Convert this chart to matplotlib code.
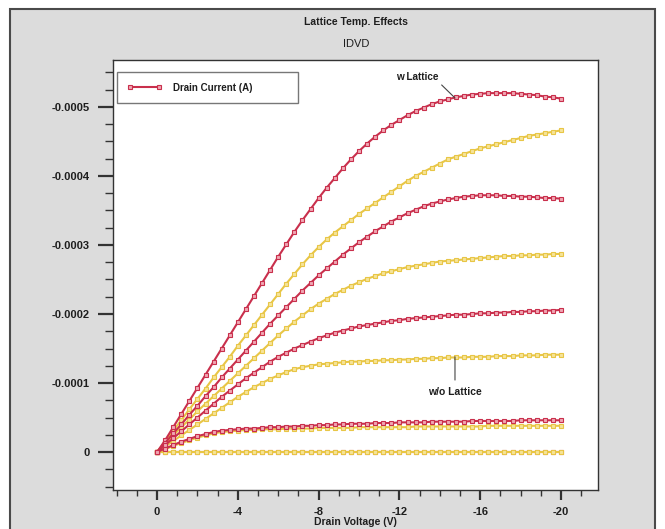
import numpy as np
import matplotlib
matplotlib.use("Agg")
import matplotlib.pyplot as plt
from matplotlib.patches import Rectangle
from matplotlib.ticker import FixedLocator, MultipleLocator, FuncFormatter

plt.rcParams['font.family'] = ['Liberation Sans', 'DejaVu Sans']
plt.rcParams['axes.unicode_minus'] = False

# -----------------
#   data (IDVD sweep)
# -----------------
# drain voltage sweep (V)
vd = [0.0, -0.4, -0.8, -1.2, -1.6, -2.0, -2.4, -2.8, -3.2, -3.6, -4.0,
      -4.4, -4.8, -5.2, -5.6, -6.0, -6.4, -6.8, -7.2, -7.6, -8.0,
      -8.4, -8.8, -9.2, -9.6, -10.0, -10.4, -10.8, -11.2, -11.6, -12.0,
      -12.4, -12.8, -13.2, -13.6, -14.0, -14.4, -14.8, -15.2, -15.6, -16.0,
      -16.4, -16.8, -17.2, -17.6, -18.0, -18.4, -18.8, -19.2, -19.6, -20.0]

# drain current magnitude, units of 1e-4 A (plotted negative)
# with lattice temperature
w_lat_1 = [0.00, 0.17, 0.36, 0.55, 0.74, 0.93, 1.12, 1.31, 1.50, 1.69, 1.88,
           2.07, 2.26, 2.45, 2.64, 2.83, 3.01, 3.19, 3.36, 3.52, 3.68,
           3.83, 3.97, 4.11, 4.24, 4.36, 4.47, 4.57, 4.66, 4.74, 4.81,
           4.88, 4.94, 4.99, 5.04, 5.08, 5.11, 5.14, 5.16, 5.18, 5.19,
           5.20, 5.20, 5.20, 5.20, 5.19, 5.18, 5.17, 5.15, 5.14, 5.12]
w_lat_2 = [0.00, 0.13, 0.27, 0.40, 0.54, 0.67, 0.81, 0.94, 1.08, 1.21, 1.34,
           1.47, 1.60, 1.73, 1.86, 1.98, 2.10, 2.22, 2.34, 2.45, 2.56,
           2.66, 2.76, 2.86, 2.95, 3.04, 3.12, 3.20, 3.27, 3.34, 3.40,
           3.46, 3.51, 3.56, 3.60, 3.63, 3.66, 3.68, 3.70, 3.71, 3.72,
           3.72, 3.72, 3.71, 3.71, 3.70, 3.70, 3.69, 3.68, 3.68, 3.67]
w_lat_3 = [0.00, 0.10, 0.20, 0.30, 0.40, 0.50, 0.60, 0.70, 0.80, 0.89, 0.98,
           1.07, 1.15, 1.23, 1.31, 1.38, 1.44, 1.50, 1.55, 1.60, 1.65,
           1.69, 1.73, 1.76, 1.79, 1.82, 1.84, 1.86, 1.88, 1.90, 1.91,
           1.93, 1.94, 1.95, 1.96, 1.97, 1.98, 1.99, 1.99, 2.00, 2.01,
           2.01, 2.02, 2.02, 2.03, 2.03, 2.04, 2.04, 2.05, 2.05, 2.06]
w_lat_4 = [0.00, 0.05, 0.10, 0.15, 0.19, 0.23, 0.26, 0.29, 0.31, 0.32, 0.33,
           0.34, 0.34, 0.35, 0.36, 0.36, 0.37, 0.37, 0.38, 0.38, 0.39,
           0.39, 0.40, 0.40, 0.41, 0.41, 0.41, 0.42, 0.42, 0.42, 0.43,
           0.43, 0.43, 0.43, 0.44, 0.44, 0.44, 0.44, 0.44, 0.45, 0.45,
           0.45, 0.45, 0.45, 0.45, 0.46, 0.46, 0.46, 0.46, 0.46, 0.46]
w_lat_5 = [0.0] * 51   # off state, flat at zero

# without lattice temperature
wo_lat_1 = [0.00, 0.15, 0.31, 0.46, 0.62, 0.77, 0.92, 1.08, 1.23, 1.38, 1.54,
            1.69, 1.84, 1.99, 2.14, 2.29, 2.44, 2.58, 2.72, 2.85, 2.97,
            3.08, 3.18, 3.27, 3.36, 3.45, 3.53, 3.61, 3.69, 3.77, 3.85,
            3.93, 4.00, 4.06, 4.12, 4.18, 4.24, 4.28, 4.32, 4.36, 4.40,
            4.43, 4.46, 4.49, 4.52, 4.55, 4.58, 4.60, 4.62, 4.64, 4.66]
wo_lat_2 = [0.00, 0.12, 0.24, 0.36, 0.47, 0.59, 0.70, 0.81, 0.92, 1.03, 1.14,
            1.25, 1.36, 1.47, 1.58, 1.69, 1.79, 1.89, 1.98, 2.07, 2.15,
            2.22, 2.29, 2.35, 2.41, 2.46, 2.51, 2.55, 2.59, 2.62, 2.65,
            2.68, 2.70, 2.72, 2.74, 2.76, 2.77, 2.78, 2.79, 2.80, 2.81,
            2.82, 2.83, 2.84, 2.84, 2.85, 2.85, 2.86, 2.86, 2.87, 2.87]
wo_lat_3 = [0.00, 0.08, 0.16, 0.24, 0.32, 0.40, 0.48, 0.56, 0.64, 0.72, 0.80,
            0.87, 0.94, 1.00, 1.06, 1.11, 1.16, 1.20, 1.23, 1.25, 1.27,
            1.28, 1.29, 1.30, 1.31, 1.31, 1.32, 1.32, 1.33, 1.33, 1.34,
            1.34, 1.35, 1.35, 1.36, 1.36, 1.37, 1.37, 1.37, 1.38, 1.38,
            1.38, 1.39, 1.39, 1.39, 1.40, 1.40, 1.40, 1.41, 1.41, 1.41]
wo_lat_4 = [0.00, 0.04, 0.09, 0.13, 0.17, 0.21, 0.24, 0.27, 0.29, 0.30, 0.31,
            0.32, 0.32, 0.33, 0.33, 0.33, 0.34, 0.34, 0.34, 0.34, 0.35,
            0.35, 0.35, 0.35, 0.35, 0.36, 0.36, 0.36, 0.36, 0.36, 0.36,
            0.36, 0.37, 0.37, 0.37, 0.37, 0.37, 0.37, 0.37, 0.37, 0.37,
            0.38, 0.38, 0.38, 0.38, 0.38, 0.38, 0.38, 0.38, 0.38, 0.38]
wo_lat_5 = [0.0] * 51

y_ticks = [0, -0.0001, -0.0002, -0.0003, -0.0004, -0.0005]
x_ticks = [0, -4, -8, -12, -16, -20]

# ----------------
#    plot
# ----------------
red = '#c92f4c'
red_face = '#f0a8b4'
yel = '#e8c646'
yel_face = '#f6e49a'
txt = '#1e1e1e'

fig = plt.figure(figsize=(6.65, 5.29), dpi=100)
fig.patch.set_facecolor('white')
# gray panel behind the chart
fig.patches.append(Rectangle((10 / 665, -0.02), 645 / 665, 1.02 - 9 / 529,
                             transform=fig.transFigure, facecolor='#dcdcdc',
                             edgecolor='#4a4a4a', linewidth=1.5, zorder=-5))

ax = fig.add_axes([113 / 665, 1 - 490 / 529, 485 / 665, 430 / 529])
ax.set_facecolor('white')

vd_arr = np.array(vd)
scale = -1e-4

style = dict(marker='s', markersize=2.9, linewidth=1.5, markeredgewidth=0.8)

ax.plot(vd_arr, scale * np.array(w_lat_5), color=red, mfc=red_face, mec=red, **style)
for cur in [wo_lat_1, wo_lat_2, wo_lat_3, wo_lat_4, wo_lat_5]:
    ax.plot(vd_arr, scale * np.array(cur), color=yel, mfc=yel_face, mec=yel, **style)
for i, cur in enumerate([w_lat_1, w_lat_2, w_lat_3, w_lat_4]):
    ax.plot(vd_arr, scale * np.array(cur), color=red, mfc=red_face, mec=red,
            label='Drain Current (A)' if i == 0 else None, **style)

ax.set_xlim(2.18, -21.83)
ax.set_ylim(0.000055, -0.000568)

ax.xaxis.set_major_locator(FixedLocator(x_ticks))
ax.xaxis.set_minor_locator(MultipleLocator(1))
ax.yaxis.set_major_locator(FixedLocator(y_ticks))
ax.yaxis.set_minor_locator(MultipleLocator(0.000025))
ax.yaxis.set_major_formatter(FuncFormatter(lambda v, p: '0' if abs(v) < 1e-12 else '%g' % v))
ax.xaxis.set_major_formatter(FuncFormatter(lambda v, p: '%d' % round(v)))

ax.tick_params(axis='y', which='major', direction='out', length=11, width=1.6,
               labelsize=8, pad=6, colors='#333333', labelcolor=txt)
ax.tick_params(axis='y', which='minor', direction='out', length=6, width=1.0, colors='#333333')
ax.tick_params(axis='x', which='major', direction='out', length=7, width=1.6,
               labelsize=8, pad=5, colors='#333333', labelcolor=txt)
ax.tick_params(axis='x', which='minor', direction='out', length=4, width=1.0, colors='#333333')
for sp in ax.spines.values():
    sp.set_color('#333333')
    sp.set_linewidth(1.0)
for lab in ax.get_xticklabels() + ax.get_yticklabels():
    lab.set_fontweight('bold')

ax.set_xlabel('Drain Voltage (V)', fontsize=7.5, color=txt, labelpad=0, fontweight='bold')

fig.text(0.535, 1 - 22 / 529, 'Lattice Temp. Effects', ha='center', va='center',
         fontsize=7.5, fontweight='bold', color=txt)
fig.text(0.535, 1 - 44 / 529, 'IDVD', ha='center', va='center',
         fontsize=8, color=txt)

# legend box stretched to the width seen in the reference
leg = ax.legend(loc='upper left', bbox_to_anchor=(0.008, 0.872, 0.373, 0.1),
                mode='expand', numpoints=2, fontsize=7, fancybox=False,
                framealpha=1, edgecolor='#777777', handlelength=3.5,
                borderpad=1.1, handletextpad=1.2, borderaxespad=0)
for t in leg.get_texts():
    t.set_color(txt)
    t.set_fontweight('bold')
leg.get_frame().set_linewidth(1.0)

ax.annotate('w Lattice', xy=(-14.75, -5.13e-4), xytext=(-12.9, -5.43e-4),
            ha='center', va='center', fontsize=7.2, fontweight='bold', color=txt,
            arrowprops=dict(arrowstyle='-', color='#444444', lw=0.8,
                            shrinkA=0, shrinkB=0, relpos=(1.0, 0.0)))
ax.annotate('w/o Lattice', xy=(-14.75, -1.38e-4), xytext=(-14.75, -0.87e-4),
            ha='center', va='center', fontsize=7.5, fontweight='bold', color=txt,
            arrowprops=dict(arrowstyle='-', color='#444444', lw=0.8,
                            shrinkA=3, shrinkB=0, relpos=(0.5, 1.0)))

fig.savefig('out.png', dpi=100, facecolor=fig.get_facecolor())
